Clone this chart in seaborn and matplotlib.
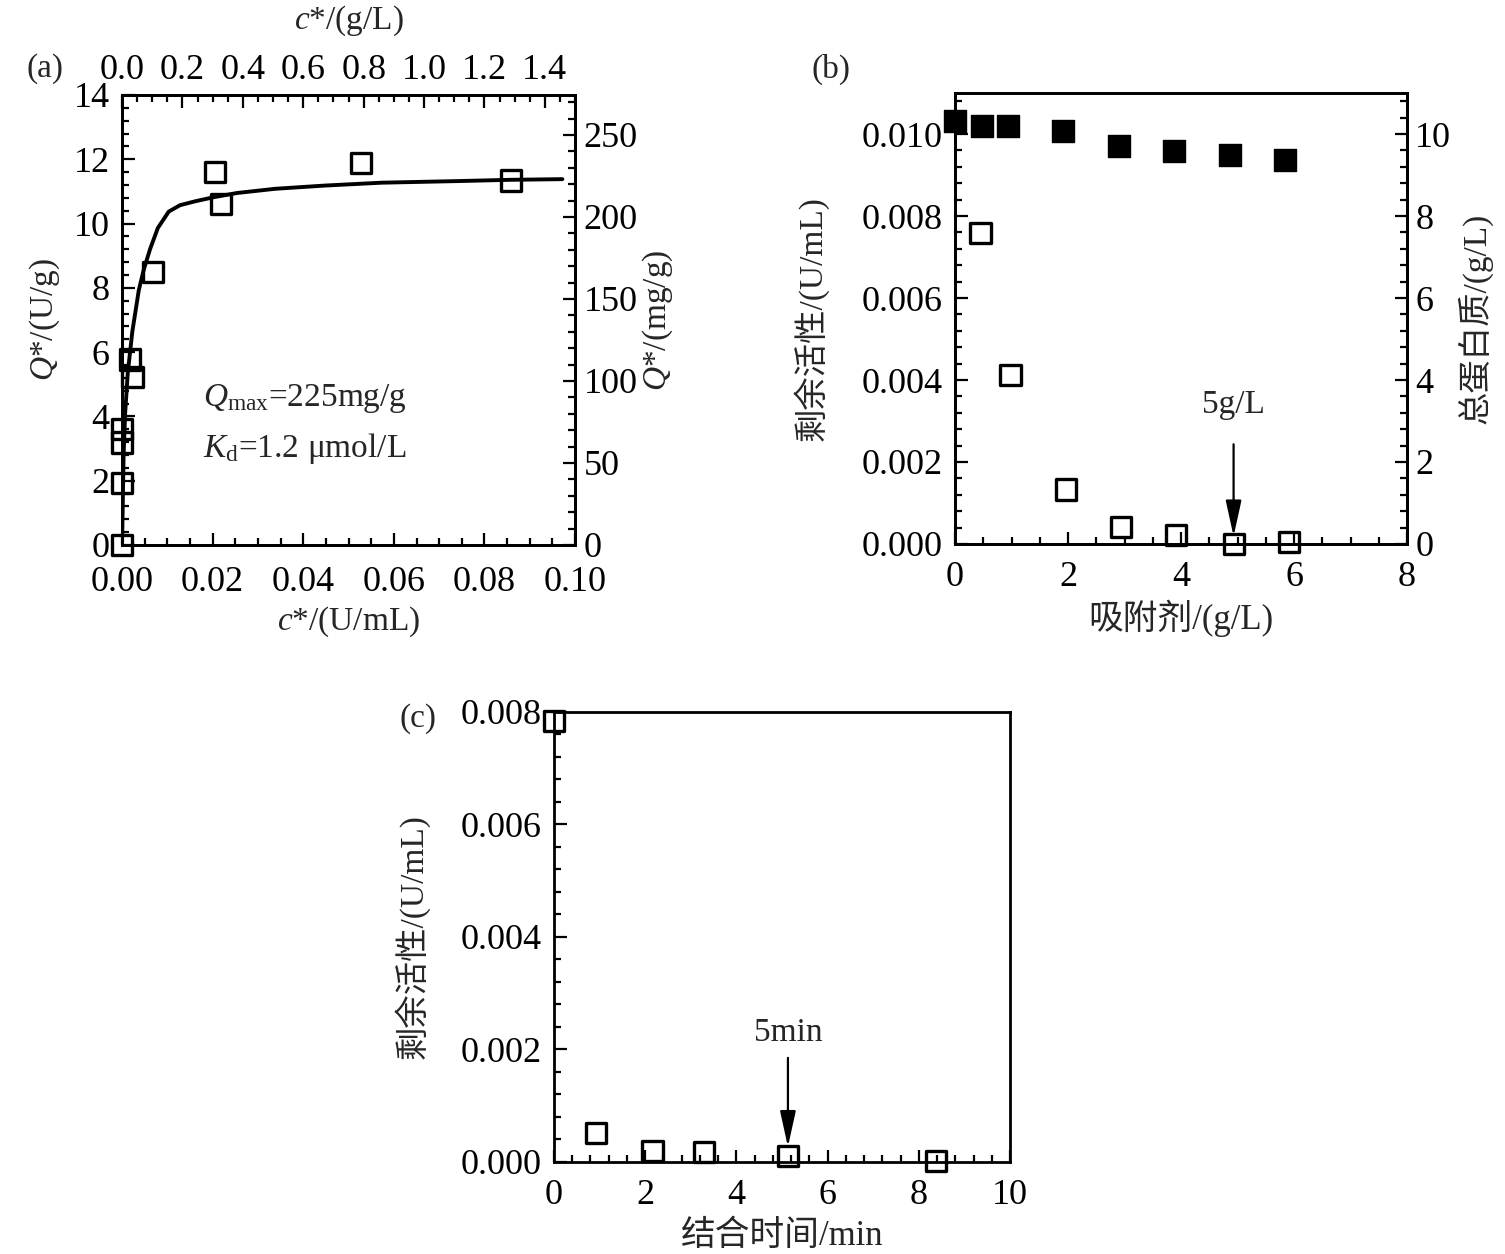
import numpy as np
import pandas as pd
import matplotlib
matplotlib.use("Agg")
import matplotlib.pyplot as plt
import seaborn as sns
from matplotlib.ticker import MultipleLocator, FormatStrFormatter

# ---------------- data ----------------
# (a) adsorption isotherm
a_c = [0.0, 0.0, 0.0, 0.0, 0.0017, 0.0023, 0.0069, 0.0206, 0.0218, 0.0528, 0.0859]
a_Q = [0.0, 1.94, 3.19, 3.62, 5.77, 5.23, 8.48, 11.6, 10.6, 11.89, 11.34]
fit_c = [0.0, 0.00034, 0.00067, 0.00126, 0.00227, 0.0037, 0.0048, 0.0062, 0.0079,
         0.0103, 0.0128, 0.0161, 0.0203, 0.0254, 0.0338, 0.0447, 0.0573, 0.0741,
         0.0859, 0.0972]
fit_Q = [0.0, 2.78, 4.07, 5.35, 6.64, 7.93, 8.57, 9.21, 9.86, 10.37, 10.57, 10.69,
         10.82, 10.95, 11.08, 11.18, 11.27, 11.32, 11.36, 11.38]
qmax_text = r"$Q_{\rm max}$=225mg/g"
kd_text = r"$K_{\rm d}$=1.2 μmol/L"

# (b) adsorbent dosage
b_dose_act = [0.45, 0.98, 1.96, 2.93, 3.91, 4.93, 5.91]
b_act = [0.00759, 0.00412, 0.00133, 0.00042, 0.00021, 0.0, 0.00005]
b_dose_prot = [0.0, 0.47, 0.94, 1.91, 2.91, 3.87, 4.87, 5.84]
b_prot = [10.31, 10.19, 10.19, 10.07, 9.72, 9.58, 9.48, 9.37]

# (c) binding time
c_time = [0.0, 0.93, 2.16, 3.29, 5.13, 8.37]
c_act = [0.00784, 0.00051, 0.00019, 0.00017, 0.00011, 0.00002]

# ---------------- style ----------------
sns.set_style("white")
plt.rcParams["font.family"] = ["Liberation Serif", "Noto Sans CJK SC"]
plt.rcParams["mathtext.fontset"] = "custom"
plt.rcParams["mathtext.rm"] = "Liberation Serif"
plt.rcParams["mathtext.it"] = "Liberation Serif:italic"
plt.rcParams["axes.unicode_minus"] = False

FS = 24      # labels / annotations
TFS = 26     # tick labels
fig = plt.figure(figsize=(15.05, 12.54), dpi=100)
fig.patch.set_facecolor("white")


def style_axis(ax, which_sides):
    for s in ax.spines.values():
        s.set_linewidth(2.0)
        s.set_color("black")
    ax.tick_params(which="both", direction="in", width=1.6, colors="black",
                   labelsize=TFS, **which_sides)
    ax.tick_params(which="major", length=9)
    ax.tick_params(which="minor", length=5)
    ax.tick_params(axis="y", pad=9)
    ax.tick_params(axis="x", pad=12)


sq_open = dict(marker="s", s=210, facecolor="none", edgecolor="black",
               linewidth=2.4, clip_on=False, zorder=5, legend=False)

# ---------------- (a) ----------------
axA = fig.add_axes([0.0811, 0.5654, 0.3010, 0.3589])
sns.lineplot(x=fit_c, y=fit_Q, ax=axA, color="black", linewidth=2.8, sort=False)
sns.scatterplot(x=a_c, y=a_Q, ax=axA, **sq_open)
axA.set_xlim(0, 0.10)
axA.set_ylim(0, 14)
axA.xaxis.set_major_locator(MultipleLocator(0.02))
axA.xaxis.set_minor_locator(MultipleLocator(0.005))
axA.xaxis.set_major_formatter(FormatStrFormatter("%.2f"))
axA.yaxis.set_major_locator(MultipleLocator(2))
axA.yaxis.set_minor_locator(MultipleLocator(0.4))
style_axis(axA, dict(bottom=True, left=True, top=False, right=False))
axA.tick_params(axis="x", pad=15)
axA.set_xlabel(r"$c$*/(U/mL)", fontsize=FS, labelpad=4)
axA.set_ylabel(r"$Q$*/(U/g)", fontsize=FS, labelpad=8)
axA.text(0.0178, 4.55, qmax_text, fontsize=FS, va="center", ha="left")
axA.text(0.0178, 3.0, kd_text, fontsize=FS, va="center", ha="left")

axA_r = axA.twinx()
axA_r.set_ylim(0, 14 * 19.6)
axA_r.yaxis.set_major_locator(MultipleLocator(50))
axA_r.yaxis.set_minor_locator(MultipleLocator(10))
style_axis(axA_r, dict(right=True, left=False, top=False, bottom=False))
axA_r.tick_params(axis="y", pad=6)
axA_r.set_ylabel(r"$Q$*/(mg/g)", fontsize=FS, labelpad=2)

axA_t = axA.twiny()
axA_t.set_xlim(0, 1.5)
axA_t.xaxis.set_major_locator(MultipleLocator(0.2))
axA_t.xaxis.set_minor_locator(MultipleLocator(0.05))
axA_t.xaxis.set_major_formatter(FormatStrFormatter("%.1f"))
style_axis(axA_t, dict(top=True, bottom=False, left=False, right=False))
axA_t.tick_params(axis="x", pad=6)
axA_t.set_xlabel(r"$c$*/(g/L)", fontsize=FS, labelpad=18)

fig.text(0.030, 0.945, "(a)", fontsize=FS, ha="center", va="center")

# ---------------- (b) ----------------
axB = fig.add_axes([0.6346, 0.5662, 0.3003, 0.3596])
axB_r = axB.twinx()
sns.scatterplot(x=b_dose_act, y=b_act, ax=axB, **sq_open)
sns.scatterplot(x=b_dose_prot, y=b_prot, ax=axB_r, marker="s", s=230,
                color="black", edgecolor="black", linewidth=1.0,
                clip_on=False, zorder=5, legend=False)
axB.set_xlim(0, 8)
axB.set_ylim(0, 0.011)
axB_r.set_ylim(0, 11)
axB.xaxis.set_major_locator(MultipleLocator(2))
axB.xaxis.set_minor_locator(MultipleLocator(0.5))
axB.yaxis.set_major_locator(MultipleLocator(0.002))
axB.yaxis.set_minor_locator(MultipleLocator(0.0004))
axB.yaxis.set_major_formatter(FormatStrFormatter("%.3f"))
axB_r.yaxis.set_major_locator(MultipleLocator(2))
axB_r.yaxis.set_minor_locator(MultipleLocator(0.4))
style_axis(axB, dict(bottom=True, left=True, top=False, right=False))
style_axis(axB_r, dict(right=True, left=False, top=False, bottom=False))
axB_r.tick_params(axis="y", pad=6)
axB.set_xlabel("吸附剂/(g/L)", fontsize=25, labelpad=4)
axB.set_ylabel("剩余活性/(U/mL)", fontsize=FS, labelpad=24)
axB_r.set_ylabel("总蛋白质/(g/L)", fontsize=FS, labelpad=4)
axB.annotate("", xy=(4.93, 0.00012), xytext=(4.93, 0.0025),
             arrowprops=dict(arrowstyle="-|>,head_length=1.0,head_width=0.22",
                             color="black", lw=1.6, mutation_scale=22))
axB.text(4.93, 0.0034, "5g/L", fontsize=FS, ha="center", va="center")
fig.text(0.552, 0.945, "(b)", fontsize=FS, ha="center", va="center")

# ---------------- (c) ----------------
axC = fig.add_axes([0.3681, 0.0734, 0.3030, 0.3589])
sns.scatterplot(x=c_time, y=c_act, ax=axC, **sq_open)
axC.set_xlim(0, 10)
axC.set_ylim(0, 0.008)
axC.xaxis.set_major_locator(MultipleLocator(2))
axC.xaxis.set_minor_locator(MultipleLocator(0.4))
axC.yaxis.set_major_locator(MultipleLocator(0.002))
axC.yaxis.set_minor_locator(MultipleLocator(0.0004))
axC.yaxis.set_major_formatter(FormatStrFormatter("%.3f"))
style_axis(axC, dict(bottom=True, left=True, top=False, right=False))
axC.set_xlabel("结合时间/min", fontsize=25, labelpad=6)
axC.set_ylabel("剩余活性/(U/mL)", fontsize=FS, labelpad=22)
axC.annotate("", xy=(5.13, 0.00022), xytext=(5.13, 0.0019),
             arrowprops=dict(arrowstyle="-|>,head_length=1.0,head_width=0.22",
                             color="black", lw=1.6, mutation_scale=22))
axC.text(5.13, 0.0023, "5min", fontsize=FS, ha="center", va="center")
fig.text(0.278, 0.427, "(c)", fontsize=FS, ha="center", va="center")

fig.savefig("out.png", dpi=100, facecolor="white")
